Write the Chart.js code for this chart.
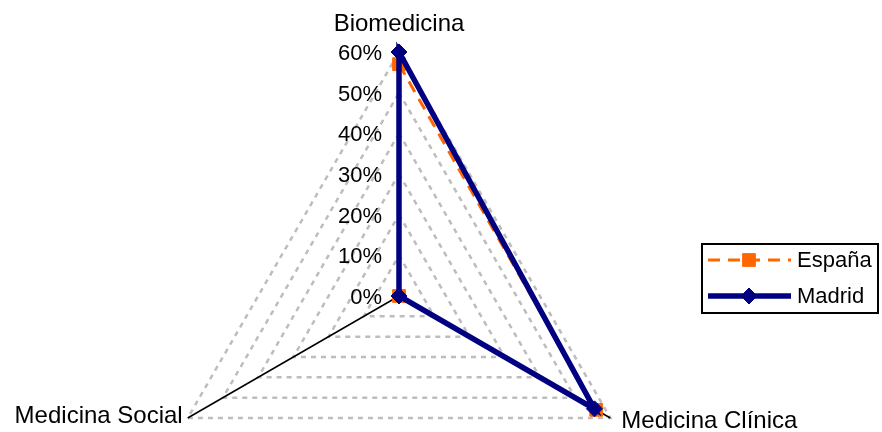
<!DOCTYPE html>
<html>
<head>
<meta charset="utf-8">
<script src="https://cdn.jsdelivr.net/npm/chart.js@4.4.0/dist/chart.umd.min.js"></script>
<style>
  html, body { margin: 0; padding: 0; background: #fff; }
</style>
</head>
<body>
<canvas id="radarChart" width="882" height="432"></canvas>
<script>
const categories = ['Biomedicina', 'Medicina Clínica', 'Medicina Social'];
const espana = [57, 56, 0];
const madrid = [60, 55.5, 0];
const tickValues = [0, 10, 20, 30, 40, 50, 60];
const seriesNames = ['España', 'Madrid'];

const FONT = '22px "Liberation Sans", Arial, sans-serif';
const LABEL_FONT = '24px "Liberation Sans", Arial, sans-serif';

// tick labels, category labels and the boxed legend, drawn by hand
const extras = {
    id: 'extras',
    afterDatasetsDraw(chart) {
        const ctx = chart.ctx;
        const r = chart.scales.r;
        ctx.save();
        ctx.fillStyle = '#000';
        ctx.font = FONT;

        // tick labels to the left of the top axis
        ctx.textAlign = 'right';
        ctx.textBaseline = 'middle';
        tickValues.forEach(v => {
            const y = r.yCenter - r.getDistanceFromCenterForValue(v);
            ctx.fillText(v + '%', r.xCenter - 17, y + 2);
        });

        // category labels
        ctx.font = LABEL_FONT;
        categories.forEach((label, i) => {
            const p = r.getPointPosition(i, r.drawingArea);
            if (Math.abs(p.x - r.xCenter) < 2) {
                ctx.textAlign = 'center';
                ctx.fillText(label, p.x, p.y - 28);
            } else if (p.x > r.xCenter) {
                ctx.textAlign = 'left';
                ctx.fillText(label, p.x + 11, p.y + 3);
            } else {
                ctx.textAlign = 'right';
                ctx.fillText(label, p.x - 5, p.y - 2);
            }
        });

        // legend
        ctx.font = FONT;
        const lx = 702, ly = 244, lw = 176, lh = 69;
        ctx.lineWidth = 2;
        ctx.strokeStyle = '#000';
        ctx.strokeRect(lx, ly, lw, lh);
        chart.data.datasets.forEach((ds, i) => {
            const y = ly + 16 + i * 36;
            ctx.save();
            ctx.strokeStyle = ds.borderColor;
            ctx.lineWidth = ds.borderWidth;
            ctx.setLineDash(ds.borderDash || []);
            ctx.beginPath();
            ctx.moveTo(lx + 6, y);
            ctx.lineTo(lx + 89, y);
            ctx.stroke();
            ctx.setLineDash([]);
            const mx = lx + 47;
            const s = ds.pointRadius;
            ctx.fillStyle = ds.pointBackgroundColor;
            ctx.strokeStyle = ds.pointBorderColor;
            ctx.lineWidth = 1;
            ctx.beginPath();
            if (ds.pointStyle === 'rectRot') {
                ctx.moveTo(mx, y - s);
                ctx.lineTo(mx + s, y);
                ctx.lineTo(mx, y + s);
                ctx.lineTo(mx - s, y);
                ctx.closePath();
            } else {
                const h = s * Math.SQRT1_2;
                ctx.rect(mx - h, y - h, 2 * h, 2 * h);
            }
            ctx.fill();
            ctx.stroke();
            ctx.restore();
            ctx.fillStyle = '#000';
            ctx.textAlign = 'left';
            ctx.fillText(ds.label, lx + 95, y + 1);
        });
        ctx.restore();
    }
};

new Chart(document.getElementById('radarChart'), {
    type: 'radar',
    data: {
        labels: categories,
        datasets: [{
            label: seriesNames[0],
            data: espana,
            borderColor: '#FF6600',
            borderWidth: 3,
            borderDash: [12, 8],
            pointStyle: 'rect',
            pointRadius: 9,
            pointBackgroundColor: '#FF6600',
            pointBorderColor: '#FF6600',
            pointBorderWidth: 1,
            fill: false,
            order: 1
        }, {
            label: seriesNames[1],
            data: madrid,
            borderColor: '#000080',
            borderWidth: 5.5,
            pointStyle: 'rectRot',
            pointRadius: 8,
            pointBackgroundColor: '#000080',
            pointBorderColor: '#000080',
            pointBorderWidth: 1,
            fill: false,
            order: 0
        }]
    },
    options: {
        responsive: false,
        animation: false,
        plugins: {
            legend: { display: false },
            tooltip: { enabled: false }
        },
        elements: { line: { tension: 0 } },
        scales: {
            r: {
                min: 0,
                max: 60,
                ticks: { stepSize: 10, display: false },
                pointLabels: { display: false },
                grid: { color: '#bdbdbd', lineWidth: 2.5, borderDash: [5, 5] },
                border: { dash: [5, 5] },
                angleLines: { color: '#000', lineWidth: 1.5 },
                afterFit(scale) {
                    scale.xCenter = 399;
                    scale.yCenter = 296;
                    scale.drawingArea = 244;
                }
            }
        }
    },
    plugins: [extras]
});
</script>
</body>
</html>
